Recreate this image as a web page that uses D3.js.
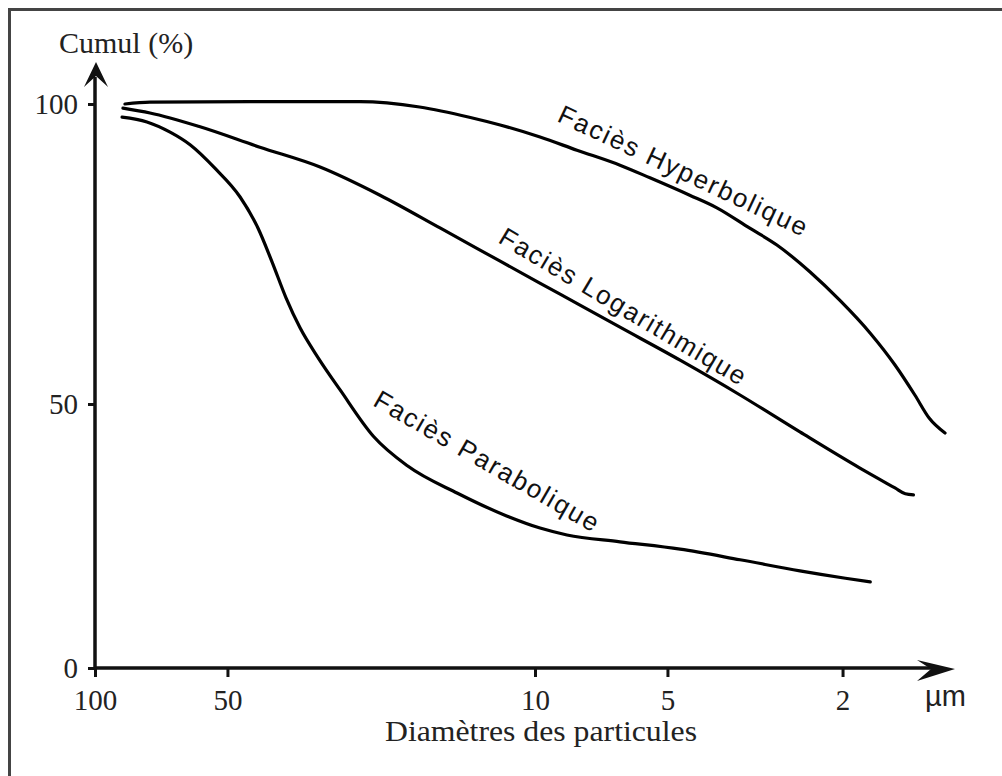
<!DOCTYPE html>
<html>
<head>
<meta charset="utf-8">
<script src="https://cdn.jsdelivr.net/npm/d3@7"></script>
<style>
  body { margin: 0; background: #fff; }
  svg { display: block; }
</style>
</head>
<body>
<div id="chart"></div>
<script>
// diameters in µm, cumulative %
const diameterTicks = [100, 50, 10, 5, 2];
const cumulTicks = [0, 50, 100];

const hyperbolique = [
  [85.5, 100.0], [75.0, 100.3], [44.4, 100.4], [25.0, 100.4], [18.3, 99.5],
  [14.1, 97.8], [12.0, 96.5], [9.74, 94.5], [8.03, 92.3], [6.41, 89.8],
  [5.48, 87.7], [4.45, 84.8], [3.86, 82.7], [3.25, 79.3], [2.82, 76.5],
  [2.37, 72.0], [2.03, 67.3], [1.73, 61.8], [1.52, 56.5], [1.37, 51.5],
  [1.27, 47.3], [1.17, 44.5]
];

const logarithmique = [
  [86.4, 99.3], [75.0, 98.5], [57.7, 96.2], [42.2, 92.8], [30.8, 89.5],
  [22.5, 84.8], [16.4, 79.3], [12.0, 73.8], [8.77, 68.3], [6.41, 62.8],
  [4.68, 57.3], [3.42, 51.5], [2.50, 44.7], [1.83, 37.9], [1.52, 34.1],
  [1.44, 33.0], [1.38, 32.8]
];

const parabolique = [
  [86.8, 97.8], [76.2, 97.0], [67.5, 95.3], [60.8, 93.2], [53.4, 89.3],
  [46.8, 84.5], [42.6, 79.3], [39.6, 73.7], [36.8, 67.7], [34.2, 62.7],
  [31.1, 57.7], [27.7, 52.3], [23.3, 43.9], [19.5, 38.3], [15.0, 33.1],
  [11.6, 28.8], [9.74, 26.5], [8.46, 25.2], [6.41, 23.9], [4.68, 22.5],
  [3.42, 20.5], [2.50, 18.4], [1.97, 17.0], [1.73, 16.3]
];

const seriesNames = ["Faciès Hyperbolique", "Faciès Logarithmique", "Faciès Parabolique"];
// label anchors (diameter, cumul) at the start of each label's baseline
const labelAnchors = [[8.96, 97.2], [12.2, 77.0], [23.5, 49.8]];

const width = 1002;
const height = 776;
const axisColor = "#111";
const serif = "'Liberation Serif', 'Times New Roman', serif";
const sans = "'Liberation Sans', Arial, sans-serif";

const svg = d3.select("#chart")
  .append("svg")
  .attr("width", width)
  .attr("height", height)
  .attr("viewBox", `0 0 ${width} ${height}`);

svg.append("rect")
  .attr("width", width)
  .attr("height", height)
  .attr("fill", "#fff");

// frame (only top and left edges fall inside the picture)
svg.append("rect")
  .attr("x", 9.5)
  .attr("y", 9.5)
  .attr("width", 1100)
  .attr("height", 1000)
  .attr("fill", "none")
  .attr("stroke", "#444")
  .attr("stroke-width", 3);

const x = d3.scaleLog().domain([100, 1]).range([95, 975]);
const y = d3.scaleLinear().domain([0, 50, 100]).range([668, 404, 104]);

const x0 = x(100);
const y0 = y(0);

// x axis
const xAxis = svg.append("g")
  .attr("transform", `translate(0,${y0})`)
  .call(d3.axisBottom(x)
    .tickValues(diameterTicks)
    .tickSize(9)
    .tickFormat(d3.format("d")));
xAxis.select(".domain").remove();
xAxis.selectAll(".tick line").attr("stroke", axisColor).attr("stroke-width", 3);
xAxis.selectAll(".tick text")
  .attr("y", 42)
  .attr("dy", null)
  .attr("fill", "#222")
  .attr("font-family", serif)
  .attr("font-size", 29);

// y axis
const yAxis = svg.append("g")
  .attr("transform", `translate(${x0},0)`)
  .call(d3.axisLeft(y)
    .tickValues(cumulTicks)
    .tickSize(7)
    .tickPadding(10)
    .tickFormat(d3.format("d")));
yAxis.select(".domain").remove();
yAxis.selectAll(".tick line").attr("stroke", axisColor).attr("stroke-width", 3);
yAxis.selectAll(".tick text")
  .attr("dy", "0.33em")
  .attr("fill", "#222")
  .attr("font-family", serif)
  .attr("font-size", 29);

// axis lines with arrowheads
const xTip = 955;
const yTip = 62;

svg.append("line")
  .attr("x1", x0).attr("y1", y0)
  .attr("x2", xTip - 20).attr("y2", y0)
  .attr("stroke", axisColor)
  .attr("stroke-width", 3.5);

svg.append("line")
  .attr("x1", x0).attr("y1", y0)
  .attr("x2", x0).attr("y2", yTip + 15)
  .attr("stroke", axisColor)
  .attr("stroke-width", 3.5);

svg.append("path")
  .attr("d", `M${xTip},${y0 + 1} L${xTip - 38},${y0 - 8} L${xTip - 24},${y0 + 1} L${xTip - 38},${y0 + 13} Z`)
  .attr("fill", axisColor);

svg.append("path")
  .attr("d", `M${x0 + 1},${yTip} L${x0 - 11},${yTip + 25} L${x0 + 1},${yTip + 14} L${x0 + 13},${yTip + 25} Z`)
  .attr("fill", axisColor);

// axis titles
svg.append("text")
  .attr("x", 59)
  .attr("y", 53)
  .attr("font-family", serif)
  .attr("font-size", 30)
  .attr("fill", "#222")
  .text("Cumul (%)");

svg.append("text")
  .attr("x", 385)
  .attr("y", 741)
  .attr("font-family", serif)
  .attr("font-size", 30)
  .attr("fill", "#222")
  .attr("textLength", 312)
  .attr("lengthAdjust", "spacingAndGlyphs")
  .text("Diamètres des particules");

svg.append("text")
  .attr("x", 925)
  .attr("y", 706)
  .attr("font-family", sans)
  .attr("font-size", 29)
  .attr("fill", "#222")
  .text("µm");

// curves
const line = d3.line()
  .x(d => x(d[0]))
  .y(d => y(d[1]))
  .curve(d3.curveMonotoneX);

svg.append("g")
  .selectAll("path")
  .data([hyperbolique, logarithmique, parabolique])
  .join("path")
  .attr("d", line)
  .attr("fill", "none")
  .attr("stroke", "#000")
  .attr("stroke-width", 3.2)
  .attr("stroke-linejoin", "round")
  .attr("stroke-linecap", "round");

// rotated curve labels
const labelAngles = [25.2, 30.7, 30];
const labelLengths = [272, 282, 255];

svg.append("g")
  .selectAll("text")
  .data(seriesNames)
  .join("text")
  .attr("transform", (d, i) => `translate(${x(labelAnchors[i][0])},${y(labelAnchors[i][1])}) rotate(${labelAngles[i]})`)
  .attr("font-family", sans)
  .attr("font-size", 26)
  .attr("fill", "#111")
  .attr("textLength", (d, i) => labelLengths[i])
  .attr("lengthAdjust", "spacing")
  .text(d => d);
</script>
</body>
</html>
